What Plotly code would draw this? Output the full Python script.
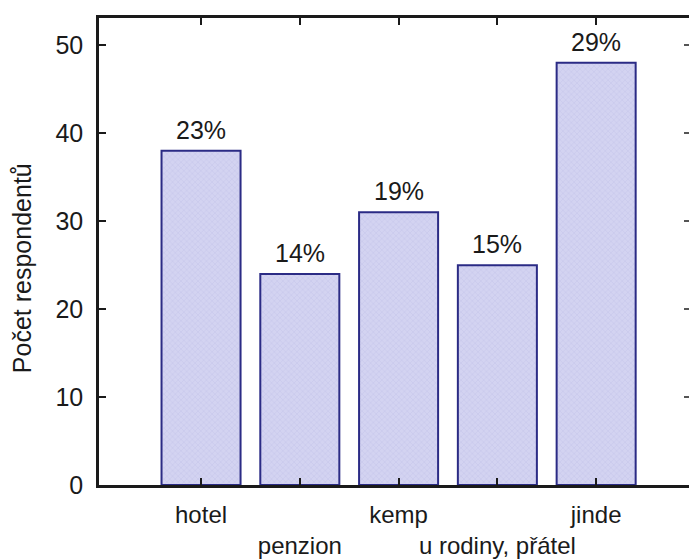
import plotly.graph_objects as go

categories = ["hotel", "penzion", "kemp", "u rodiny, přátel", "jinde"]
tick_labels = ["hotel", "<br>penzion", "kemp", "<br>u rodiny, přátel", "jinde"]
respondents = [38, 24, 31, 25, 48]
percent_labels = ["23%", "14%", "19%", "15%", "29%"]
y_ticks = [0, 10, 20, 30, 40, 50]

FONT = "Liberation Sans, Arial, Helvetica, sans-serif"
INK = "#1a1a1a"

fig = go.Figure()
fig.add_trace(go.Bar(
    x=categories,
    y=respondents,
    width=0.8,
    marker=dict(
        color="#cfcfef",
        line=dict(color="#2b2b85", width=2),
        pattern=dict(shape="x", size=4, solidity=0.25, fgcolor="#b6b6e2", bgcolor="#d3d3f1"),
    ),
    showlegend=False,
))
# invisible trace to anchor right-side inward ticks
fig.add_trace(go.Scatter(x=[categories[0]], y=[0], yaxis="y2", mode="markers",
                         marker=dict(opacity=0), showlegend=False, hoverinfo="skip"))

for cat, val, lab in zip(categories, respondents, percent_labels):
    fig.add_annotation(x=cat, y=val, text=lab, showarrow=False, yanchor="bottom",
                       yshift=5, font=dict(family=FONT, size=25, color=INK))

fig.add_annotation(text="Počet respondentů", textangle=-90, showarrow=False,
                   xref="paper", yref="paper", x=-0.13, y=0.465,
                   xanchor="center", yanchor="middle",
                   font=dict(family=FONT, size=25, color=INK))

fig.update_layout(
    width=689, height=560,
    margin=dict(l=99, r=0, t=18, b=75),
    paper_bgcolor="white", plot_bgcolor="white",
    font=dict(family=FONT, color=INK),
    xaxis=dict(
        type="category",
        categoryorder="array", categoryarray=categories,
        tickmode="array", tickvals=categories, ticktext=tick_labels,
        tickangle=0, automargin=False,
        range=[-1.033, 4.94],
        showline=True, linecolor=INK, linewidth=2.5,
        mirror="ticks",
        ticks="inside", ticklen=7, tickwidth=2, tickcolor=INK,
        ticklabelstandoff=6,
        tickfont=dict(family=FONT, size=24, color=INK),
        showgrid=False, zeroline=False,
    ),
    yaxis=dict(
        range=[0, 53.1], automargin=False,
        tickmode="array", tickvals=y_ticks,
        showline=True, linecolor=INK, linewidth=2.5,
        ticks="inside", ticklen=7, tickwidth=2, tickcolor=INK,
        ticklabelstandoff=8,
        tickfont=dict(family=FONT, size=25, color=INK),
        showgrid=False, zeroline=False,
    ),
    yaxis2=dict(
        overlaying="y", side="right", range=[0, 53.1],
        tickmode="array", tickvals=y_ticks,
        ticks="inside", ticklen=5, tickwidth=2, tickcolor="#555555",
        showticklabels=False, showline=False, showgrid=False, zeroline=False,
    ),
)

fig.write_html("out.html", config={"displayModeBar": False},
               post_script="document.body.style.margin='0';document.body.style.overflow='hidden';")
